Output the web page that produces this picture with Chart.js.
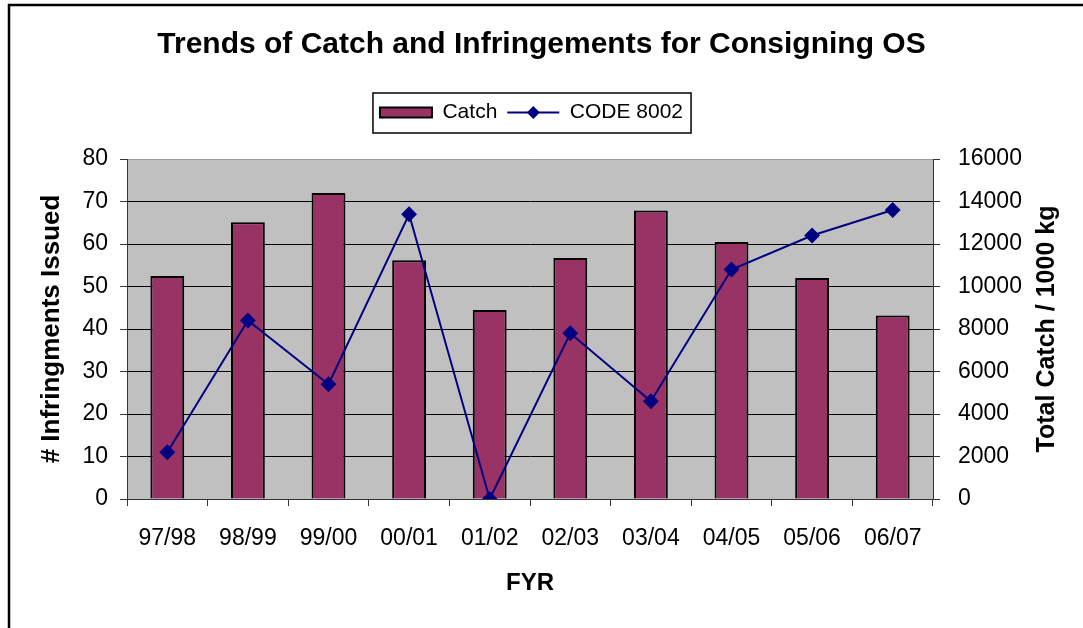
<!DOCTYPE html>
<html>
<head>
<meta charset="utf-8">
<title>Trends of Catch and Infringements for Consigning OS</title>
<script src="https://cdn.jsdelivr.net/npm/chart.js@4"></script>
<style>
  body { margin: 0; background: #fff; }
</style>
</head>
<body>
<canvas id="chart" width="1083" height="628"></canvas>
<script>
const years = ['97/98', '98/99', '99/00', '00/01', '01/02', '02/03', '03/04', '04/05', '05/06', '06/07'];
// total catch (1000 kg), right axis
const catchTotals = [10500, 13020, 14400, 11240, 8900, 11340, 13580, 12100, 10400, 8640];
// infringements issued under code 8002, left axis
const code8002 = [11, 42, 27, 67, 0, 39, 23, 54, 62, 68];

const leftTicks = { min: 0, max: 80, step: 10 };
const rightTicks = { min: 0, max: 16000, step: 2000 };

Chart.defaults.font.family = '"Liberation Sans", Arial, sans-serif';
Chart.defaults.color = '#000';

const navy = '#000080';

// legend sits over the plot (not the canvas) and leaves room below it
const legendPlace = {
    id: 'legendPlace',
    beforeInit(chart) {
        const fit = chart.legend.fit;
        chart.legend.fit = function() {
            fit.bind(chart.legend)();
            this.height += 26;
        };
    },
    afterLayout(chart) {
        chart.legend.left -= 10;
        chart.legend.right -= 10;
    }
};

const decorations = {
    id: 'decorations',
    beforeDraw(chart) {
        const { ctx, chartArea: a } = chart;
        ctx.save();
        ctx.fillStyle = '#c0c0c0';
        ctx.fillRect(a.left, a.top, a.right - a.left, a.bottom - a.top);
        ctx.strokeStyle = '#000';
        ctx.lineWidth = 2.5;
        ctx.strokeRect(9, 5, 2000, 2000);
        ctx.restore();
    },
    afterDraw(chart) {
        const { ctx, chartArea: a } = chart;
        const boxes = chart.legend.legendHitBoxes;
        const items = chart.legend.legendItems;
        ctx.save();
        if (boxes && boxes.length) {
            const first = boxes[0];
            const last = boxes[boxes.length - 1];
            const x0 = first.left - 7;
            const x1 = last.left + last.width + 8;
            const y0 = first.top - 9;
            const y1 = first.top + first.height + 10;
            ctx.strokeStyle = '#000';
            ctx.lineWidth = 1.5;
            ctx.strokeRect(x0, y0, x1 - x0, y1 - y0);

            // line + diamond swatch for CODE 8002
            const idx = items.findIndex(it => it.datasetIndex === 1);
            const hb = boxes[idx];
            const cy = hb.top + hb.height / 2;
            const sx = hb.left;
            const sw = chart.options.plugins.legend.labels.boxWidth;
            ctx.strokeStyle = navy;
            ctx.lineWidth = 2;
            ctx.beginPath();
            ctx.moveTo(sx, cy);
            ctx.lineTo(sx + sw, cy);
            ctx.stroke();
            ctx.fillStyle = navy;
            ctx.beginPath();
            ctx.moveTo(sx + sw / 2, cy - 6.5);
            ctx.lineTo(sx + sw / 2 + 6.5, cy);
            ctx.lineTo(sx + sw / 2, cy + 6.5);
            ctx.lineTo(sx + sw / 2 - 6.5, cy);
            ctx.closePath();
            ctx.fill();
        }

        // right axis title reads bottom to top
        ctx.translate(1047, (a.top + a.bottom) / 2);
        ctx.rotate(-Math.PI / 2);
        ctx.font = 'bold 25px "Liberation Sans", Arial, sans-serif';
        ctx.fillStyle = '#000';
        ctx.textAlign = 'center';
        ctx.textBaseline = 'middle';
        ctx.fillText('Total Catch / 1000 kg', 0, 0);
        ctx.restore();
    }
};

const chart = new Chart(document.getElementById('chart'), {
    type: 'bar',
    data: {
        labels: years,
        datasets: [{
            type: 'bar',
            label: 'Catch',
            data: catchTotals,
            yAxisID: 'y1',
            backgroundColor: '#993366',
            borderColor: '#000',
            borderWidth: 2,
            barPercentage: 0.42,
            categoryPercentage: 1,
            order: 2
        }, {
            type: 'line',
            label: 'CODE 8002',
            data: code8002,
            yAxisID: 'y',
            borderColor: navy,
            backgroundColor: navy,
            borderWidth: 2,
            pointStyle: 'rectRot',
            pointRadius: 6.5,
            pointHoverRadius: 6.5,
            tension: 0,
            order: 1
        }]
    },
    options: {
        responsive: false,
        animation: false,
        layout: { padding: 0 },
        plugins: {
            title: {
                display: true,
                text: 'Trends of Catch and Infringements for Consigning OS',
                font: { size: 30, weight: 'bold' },
                color: '#000',
                padding: { top: 27, bottom: 29 }
            },
            legend: {
                position: 'top',
                labels: {
                    boxWidth: 52,
                    boxHeight: 10,
                    padding: 10,
                    font: { size: 21 },
                    color: '#000',
                    sort: (a, b) => a.datasetIndex - b.datasetIndex,
                    generateLabels(chart) {
                        const items = Chart.defaults.plugins.legend.labels.generateLabels(chart);
                        items.forEach(it => {
                            if (it.datasetIndex === 1) {
                                it.fillStyle = 'rgba(0,0,0,0)';
                                it.strokeStyle = 'rgba(0,0,0,0)';
                                it.lineWidth = 0;
                            }
                        });
                        return items;
                    }
                }
            },
            tooltip: { enabled: false }
        },
        scales: {
            x: {
                grid: { drawOnChartArea: false, offset: true, tickLength: 7, color: '#333' },
                border: { color: '#333' },
                ticks: { font: { size: 23 }, color: '#000', padding: 19, maxRotation: 0 },
                title: {
                    display: true,
                    text: 'FYR',
                    font: { size: 24, weight: 'bold' },
                    color: '#000',
                    padding: { top: 0, bottom: 30 }
                },
                afterFit(scale) { scale.height = 129; }
            },
            y: {
                position: 'left',
                min: leftTicks.min,
                max: leftTicks.max,
                ticks: { stepSize: leftTicks.step, font: { size: 23 }, color: '#000', padding: 12 },
                grid: {
                    color: c => c.tick && c.tick.value === leftTicks.max ? '#9a9a9a' : '#000',
                    tickColor: '#333',
                    tickLength: 7
                },
                border: { color: '#333' },
                title: {
                    display: true,
                    text: '# Infringments Issued',
                    font: { size: 26, weight: 'bold' },
                    color: '#000',
                    padding: { top: 36, bottom: 0 }
                },
                afterFit(scale) { scale.width = 127; }
            },
            y1: {
                position: 'right',
                min: rightTicks.min,
                max: rightTicks.max,
                ticks: {
                    stepSize: rightTicks.step,
                    font: { size: 23 },
                    color: '#000',
                    padding: 18,
                    callback: v => String(v)
                },
                grid: { drawOnChartArea: false, tickLength: 7, color: '#333' },
                border: { color: '#333' },
                afterFit(scale) { scale.width = 150; }
            }
        }
    },
    plugins: [legendPlace, decorations]
});
</script>
</body>
</html>
